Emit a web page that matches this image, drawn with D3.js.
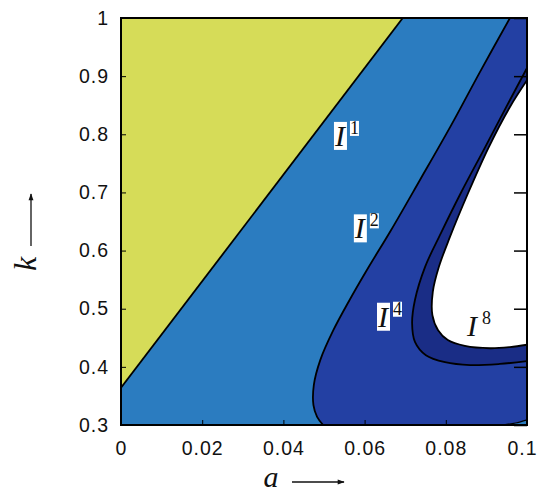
<!DOCTYPE html>
<html>
<head>
<meta charset="utf-8">
<script src="https://cdn.jsdelivr.net/npm/d3@7"></script>
<style>
  body { margin: 0; background: #fff; }
  svg { display: block; }
</style>
</head>
<body>
<div id="chart"></div>
<script>
// tick values
const xTicks = [0, 0.02, 0.04, 0.06, 0.08, 0.1];
const yTicks = [0.3, 0.4, 0.5, 0.6, 0.7, 0.8, 0.9, 1];

// boundary curves, as [a, k]
const curveI1 = [[0, 0.364], [0.0694, 1.0]];
const curveI2 = [
  [0.0958, 1.0], [0.0884, 0.907], [0.0812, 0.814], [0.0736, 0.721],
  [0.0665, 0.635], [0.0606, 0.567], [0.0563, 0.515], [0.0523, 0.463],
  [0.0491, 0.412], [0.0475, 0.369], [0.0474, 0.334], [0.0483, 0.314],
  [0.0498, 0.3]
];
const cornerSliver = [[0.0940, 0.3], [0.0972, 0.3035], [0.1, 0.309]];
const curveI4 = [
  [0.1, 0.914], [0.0958, 0.859], [0.0897, 0.778], [0.0837, 0.699],
  [0.0788, 0.630], [0.0749, 0.572], [0.0724, 0.515], [0.0717, 0.475],
  [0.0724, 0.443], [0.0751, 0.420], [0.0798, 0.408], [0.0860, 0.403],
  [0.0933, 0.405], [0.1, 0.410]
];
const curveI8 = [
  [0.1, 0.893], [0.0958, 0.847], [0.0906, 0.778], [0.0855, 0.699],
  [0.0810, 0.623], [0.0783, 0.572], [0.0768, 0.529], [0.0767, 0.489],
  [0.0781, 0.463], [0.0805, 0.446], [0.0847, 0.436], [0.0909, 0.432],
  [0.0958, 0.434], [0.1, 0.438]
];

// region labels I^n
const labelText = ["1", "2", "4", "8"];
const labelA = [0.0527, 0.0576, 0.0633, 0.0852];
const labelK = [0.780, 0.621, 0.469, 0.453];
const labelBoxed = [true, true, true, false];

const width = 539, height = 492;
const marginLeft = 121, marginRight = 12, marginTop = 18, marginBottom = 67;

const x = d3.scaleLinear([0, 0.1], [marginLeft, width - marginRight]);
const y = d3.scaleLinear([0.3, 1], [height - marginBottom, marginTop]);

const colors = {
  yellow: "#d6dc58",
  light: "#2b7cc0",
  dark: "#2340a3",
  darker: "#1a2d86",
  white: "#ffffff"
};

const svg = d3.select("#chart").append("svg")
  .attr("width", width)
  .attr("height", height)
  .attr("viewBox", [0, 0, width, height]);

const defs = svg.append("defs");
defs.append("clipPath").attr("id", "plot")
  .append("rect")
  .attr("x", x(0)).attr("y", y(1))
  .attr("width", x(0.1) - x(0)).attr("height", y(0.3) - y(1));

const line = d3.line()
  .x(d => x(d[0]))
  .y(d => y(d[1]))
  .curve(d3.curveCatmullRom.alpha(0.5));

const straight = d3.line().x(d => x(d[0])).y(d => y(d[1]));
const cont = pts => straight(pts).replace(/^M/, "L");

const g = svg.append("g").attr("clip-path", "url(#plot)");

// background: light blue
g.append("rect")
  .attr("x", x(0)).attr("y", y(1))
  .attr("width", x(0.1) - x(0)).attr("height", y(0.3) - y(1))
  .attr("fill", colors.light);

// yellow (left of I^1 line)
g.append("path")
  .attr("d", straight([...curveI1, [0, 1]]) + "Z")
  .attr("fill", colors.yellow);

// dark blue
g.append("path")
  .attr("d", line(curveI2) + cont(cornerSliver) + cont([[0.1, 1]]) + "Z")
  .attr("fill", colors.dark);

// darker band
g.append("path")
  .attr("d", line(curveI4) + "Z")
  .attr("fill", colors.darker);

// white (I^8 region)
g.append("path")
  .attr("d", line(curveI8) + "Z")
  .attr("fill", colors.white);

// boundary lines
const bounds = g.append("g")
  .attr("fill", "none")
  .attr("stroke", "#000")
  .attr("stroke-width", 1.8);
bounds.append("path").attr("d", straight(curveI1));
bounds.append("path").attr("d", line(curveI2));
bounds.append("path").attr("d", line(cornerSliver)).attr("stroke-width", 1.2);
bounds.append("path").attr("d", line(curveI4));
bounds.append("path").attr("d", line(curveI8));

// axes
const tickFont = "'Liberation Sans', Arial, sans-serif";
const styleTicks = g => g.selectAll("text")
  .attr("font-family", tickFont)
  .attr("font-size", 19.5)
  .attr("letter-spacing", 1)
  .attr("fill", "#111");

svg.append("g")
  .attr("transform", `translate(0,${y(0.3)})`)
  .call(d3.axisBottom(x).tickValues(xTicks).tickFormat(d3.format("~g"))
    .tickSizeInner(-5).tickSizeOuter(0).tickPadding(16))
  .call(g => g.select(".domain").remove())
  .call(styleTicks)
  .call(g => g.selectAll("text").filter(d => d === 0.1).attr("dx", -5));

svg.append("g")
  .attr("transform", `translate(${x(0)},0)`)
  .call(d3.axisLeft(y).tickValues(yTicks).tickFormat(d3.format("~g"))
    .tickSizeInner(-5).tickSizeOuter(0).tickPadding(12))
  .call(g => g.select(".domain").remove())
  .call(styleTicks);

svg.append("g")
  .attr("transform", `translate(${x(0.1)},0)`)
  .call(d3.axisRight(y).tickValues(yTicks).tickFormat("")
    .tickSizeInner(-13).tickSizeOuter(0))
  .call(g => g.select(".domain").remove())
  .call(g => g.selectAll("line").attr("stroke-width", 1.5));

// frame
svg.append("rect")
  .attr("x", x(0)).attr("y", y(1))
  .attr("width", x(0.1) - x(0)).attr("height", y(0.3) - y(1))
  .attr("fill", "none")
  .attr("stroke", "#000")
  .attr("stroke-width", 2);

// region labels
const serif = "'Liberation Serif', 'Times New Roman', serif";
labelText.forEach((s, i) => {
  const lg = svg.append("g")
    .attr("transform", `translate(${x(labelA[i])},${y(labelK[i])})`);
  const base = lg.append("text")
    .attr("font-family", serif).attr("font-style", "italic")
    .attr("font-size", 30).attr("fill", "#111")
    .text("I");
  const sup = lg.append("text")
    .attr("x", 15).attr("y", -12)
    .attr("font-family", serif)
    .attr("font-size", 18).attr("fill", "#111")
    .text(s);
  if (labelBoxed[i]) {
    [base, sup].forEach(t => {
      const b = t.node().getBBox();
      lg.insert("rect", "text")
        .attr("x", b.x).attr("y", b.y + 3)
        .attr("width", b.width).attr("height", b.height - 5)
        .attr("fill", "#fff");
    });
  }
});

// axis titles with arrows
defs.append("marker")
  .attr("id", "arr")
  .attr("viewBox", "0 0 10 10")
  .attr("refX", 9).attr("refY", 5)
  .attr("markerWidth", 9).attr("markerHeight", 7)
  .attr("markerUnits", "userSpaceOnUse")
  .attr("orient", "auto")
  .append("path")
  .attr("d", "M0,1.5L10,5L0,8.5Z")
  .attr("fill", "#111");

svg.append("text")
  .attr("x", 271).attr("y", 487)
  .attr("text-anchor", "middle")
  .attr("font-family", serif).attr("font-style", "italic")
  .attr("font-size", 30).attr("fill", "#111")
  .text("a");
svg.append("line")
  .attr("x1", 292).attr("x2", 344).attr("y1", 482).attr("y2", 482)
  .attr("stroke", "#111").attr("stroke-width", 1.3)
  .attr("marker-end", "url(#arr)");

svg.append("text")
  .attr("transform", "translate(36,264) rotate(-90)")
  .attr("text-anchor", "middle")
  .attr("font-family", serif).attr("font-style", "italic")
  .attr("font-size", 32).attr("fill", "#111")
  .text("k");
svg.append("line")
  .attr("x1", 31).attr("x2", 31).attr("y1", 246).attr("y2", 194)
  .attr("stroke", "#111").attr("stroke-width", 1.3)
  .attr("marker-end", "url(#arr)");
</script>
</body>
</html>
